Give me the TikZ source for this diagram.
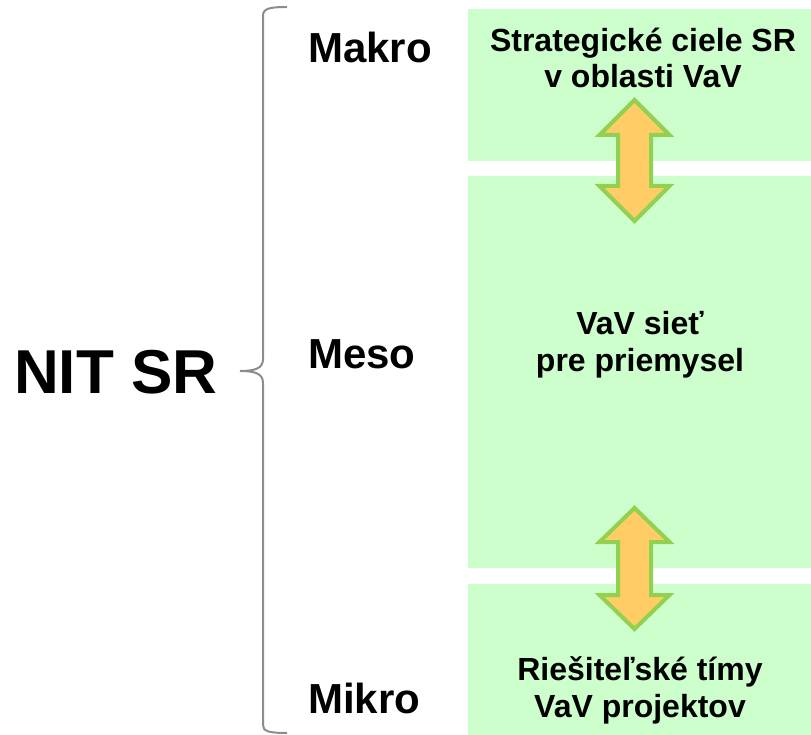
\documentclass[tikz,border=0pt]{standalone}
\usepackage{fontspec}
\setmainfont{Liberation Sans}
\definecolor{panelgreen}{HTML}{CCFFCC}
\definecolor{arrowfill}{HTML}{FFCC66}
\definecolor{arrowedge}{HTML}{92D050}
\definecolor{bracegray}{HTML}{8C8C8C}
\begin{document}
\begin{tikzpicture}[x=1pt,y=-1pt,
  panel/.style={fill=panelgreen,draw=none,inner sep=0pt,outer sep=0pt,anchor=north west},
  paneltext/.style={font=\bfseries\fontsize{32}{36.5}\selectfont,align=center,inner sep=0pt,anchor=base},
  level/.style={font=\bfseries\fontsize{42}{48}\selectfont,inner sep=0pt,anchor=base west},
  bigtitle/.style={font=\bfseries\fontsize{62}{70}\selectfont,inner sep=0pt,anchor=base west},
  dblarrow/.style={fill=arrowfill,draw=arrowedge,line width=4pt,miter limit=10},
  bracket/.style={draw=bracegray,line width=2pt}]
\useasboundingbox (0,0) rectangle (811,735);

% three stacked panels
\node[panel,minimum width=343pt,minimum height=152pt] (makrobox) at (468,9) {};
\node[panel,minimum width=343pt,minimum height=392pt] (mesobox) at (468,176) {};
\node[panel,minimum width=343pt,minimum height=151pt] (mikrobox) at (468,584) {};

% panel captions (anchored at the baseline of their last line)
\node[paneltext] (makrotext) at (643,88) {Strategické ciele SR\\v oblasti VaV};
\node[paneltext] (mesotext) at (640,371) {VaV sieť\\ pre priemysel};
\node[paneltext] (mikrotext) at (640,717) {Riešiteľské tímy\\VaV projektov};

% level labels
\node[level] (makro) at (308,63) {Makro};
\node[level] (meso) at (308,368) {Meso};
\node[level] (mikro) at (308,713) {Mikro};
\node[bigtitle] (nit) at (14,393) {NIT SR};

% curly bracket joining the levels
\coordinate (btop) at (287,7);
\coordinate (btip) at (240,371);
\coordinate (bbot) at (287,733);
\draw[bracket] (btop) .. controls (268,7) and (263,9) .. (263,16) -- (263,359)
  .. controls (263,368) and (256,371) .. (btip)
  .. controls (256,371) and (263,374) .. (263,383) -- (263,725)
  .. controls (263,731) and (268,733) .. (bbot);

% double-headed arrows between the panels
\draw[dblarrow] (634.5,100) -- (669.5,135) -- (651,135) -- (651,186) -- (669.5,186)
  -- (634.5,221) -- (599.5,186) -- (618,186) -- (618,135) -- (599.5,135) -- cycle;
\draw[dblarrow] (634.5,508) -- (669.5,542) -- (651,542) -- (651,595) -- (669.5,595)
  -- (634.5,629) -- (599.5,595) -- (618,595) -- (618,542) -- (599.5,542) -- cycle;
\end{tikzpicture}
\end{document}
